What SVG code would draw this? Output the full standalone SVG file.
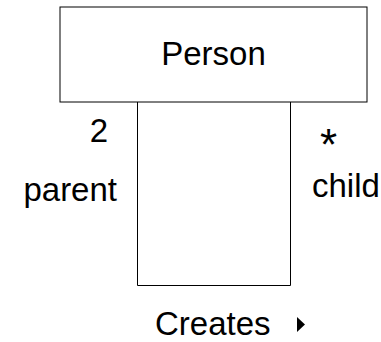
<svg xmlns="http://www.w3.org/2000/svg" width="381" height="342" viewBox="0 0 381 342">
<style>
text { font-family: "Liberation Sans", Arial, sans-serif; font-size: 33px; fill: #000; }
.box { fill: #fff; stroke: #000; stroke-width: 1; }
.conn { fill: none; stroke: #000; stroke-width: 1; }
</style>
<rect width="381" height="342" fill="#fff"/>
<g id="connectors">
  <polyline class="conn" points="137.5,102 137.5,285.5 290.5,285.5 290.5,102"/>
  <text x="108" y="142" text-anchor="end">2</text>
  <text x="117" y="201" text-anchor="end">parent</text>
  <text x="328.5" y="160" text-anchor="middle" style="font-size:44px">*</text>
  <text x="312" y="197">child</text>
  <text x="155" y="335">Creates</text>
  <polygon points="297,317 297,332 305,324.5" fill="#000"/>
</g>
<g id="person">
  <rect class="box" x="60" y="7" width="307" height="95"/>
  <text x="213.5" y="65" text-anchor="middle">Person</text>
</g>
</svg>
